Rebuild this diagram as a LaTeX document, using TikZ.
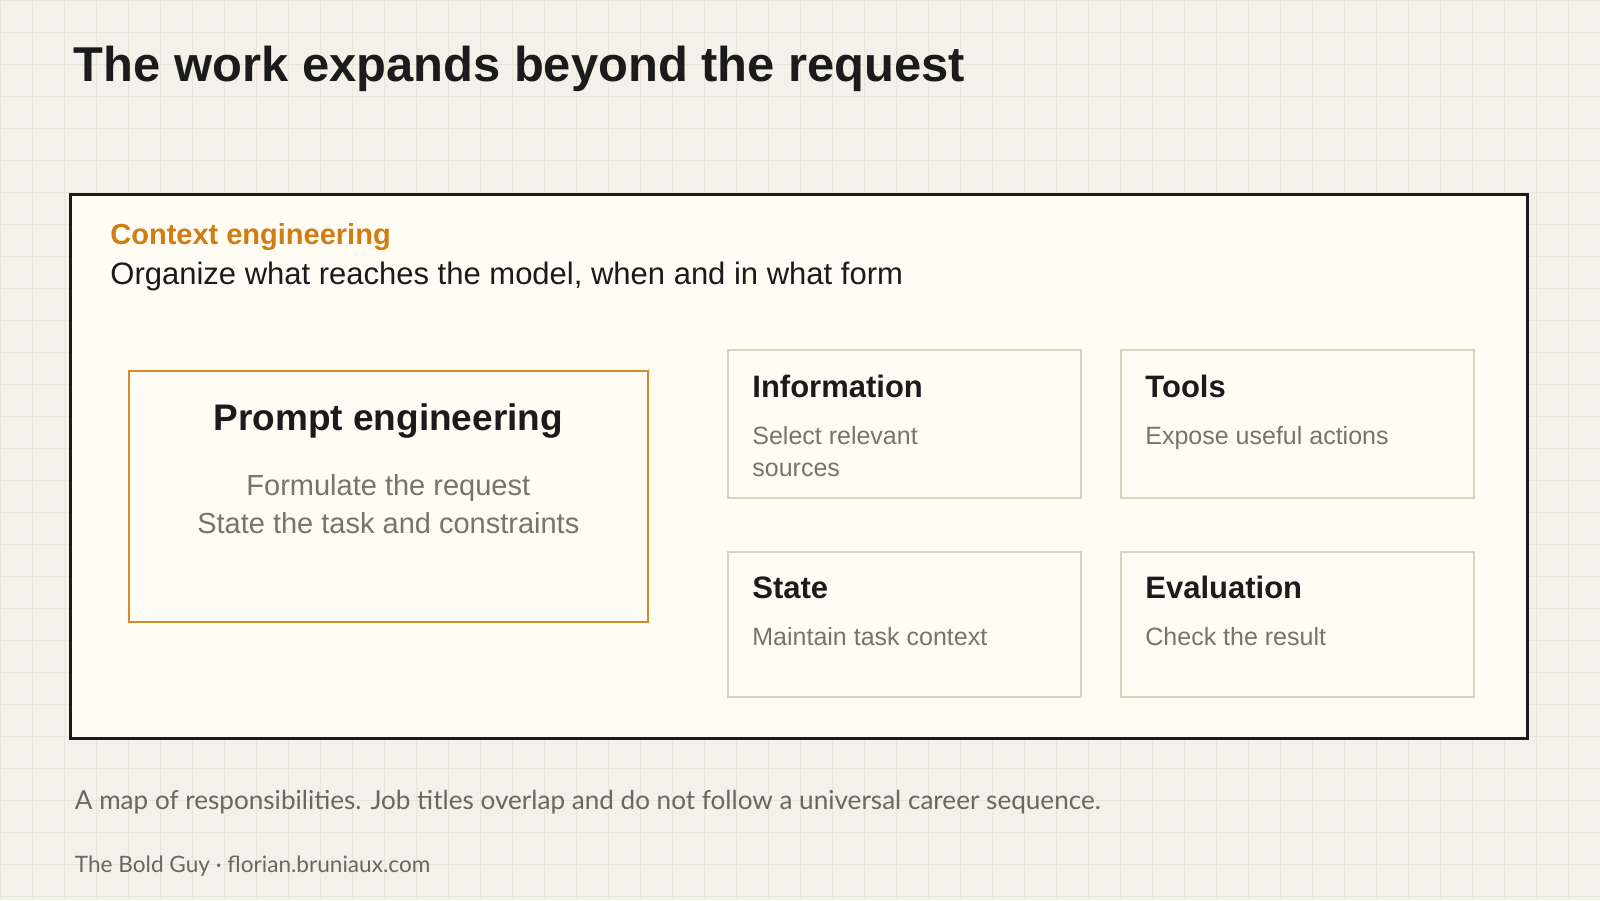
\documentclass[tikz,border=0pt]{standalone}
\usepackage{fontspec}
\setmainfont{Liberation Sans}
\newfontfamily\notefont{Lato}
\usetikzlibrary{calc}
\usetikzlibrary{positioning}

\definecolor{paper}{HTML}{F3F1E9}
\definecolor{gridc}{HTML}{E8E5D9}
\definecolor{panelfill}{HTML}{FFFCF4}
\definecolor{ink}{HTML}{1B1B1B}
\definecolor{ctxorange}{HTML}{D27C14}
\definecolor{boxorange}{HTML}{D8892A}
\definecolor{boxline}{HTML}{D6D3BF}
\definecolor{softgrey}{HTML}{78746D}
\definecolor{notegrey}{HTML}{6B675F}

\tikzset{
	gridline/.style={gridc, line width=0.5pt},
	panel/.style={draw=ink, fill=panelfill, line width=1.25pt, inner sep=0pt, anchor=north west,
		minimum width=728.5pt, minimum height=272pt},
	promptbox/.style={draw=boxorange, line width=1pt, inner sep=0pt, anchor=north west,
		minimum width=259.7pt, minimum height=125.5pt},
	rolebox/.style={draw=boxline, line width=1pt, inner sep=0pt, anchor=north west,
		minimum width=176.5pt, minimum height=#1},
	rolebox/.default=74pt,
	roletitle/.style={inner sep=0pt, anchor=base west, text=ink, font=\fontsize{15.5}{18}\selectfont\bfseries},
	roletext/.style={inner sep=0pt, anchor=base west, align=left, text=softgrey, font=\fontsize{12.5}{16}\selectfont},
	note/.style={inner sep=0pt, anchor=base west, text=notegrey},
}

\begin{document}
\begin{tikzpicture}[x=0.5pt,y=-0.5pt]
	\useasboundingbox[fill=paper] (0,0) rectangle (1600,900);
	\foreach \gx in {0,32,...,1600}
		\draw[gridline] (\gx,0) -- (\gx,900);
	\foreach \gy in {0,32,...,900}
		\draw[gridline] (0,\gy) -- (1600,\gy);

	\node[inner sep=0pt, anchor=base west, text=ink, font=\fontsize{24.45}{28}\selectfont\bfseries] (title) at (73.5,81.6) {The work expands beyond the request};

	% context engineering frame
	\node[panel] (ctx) at (69,193) {};
	\node[inner sep=0pt, anchor=base west, text=ctxorange, font=\fontsize{14.5}{17}\selectfont\bfseries] (ctxname) at ([shift={(41,51)}]ctx.north west) {Context engineering};
	\node[inner sep=0pt, anchor=base west, text=ink, font=\fontsize{15.5}{18}\selectfont] (ctxgoal) at ([shift={(41,91)}]ctx.north west) {Organize what reaches the model, when and in what form};

	% prompt engineering (base anchor sits on the last line)
	\node[promptbox] (prompt) at (127.6,370.4) {};
	\node[inner sep=0pt, anchor=base, text=ink, font=\fontsize{18.5}{21}\selectfont\bfseries] (prompttitle) at ([shift={(0,60)}]prompt.north) {Prompt engineering};
	\node[inner sep=0pt, anchor=base, align=center, text=softgrey, font=\fontsize{14.5}{19}\selectfont] (prompttext) at ([shift={(0,163)}]prompt.north) {Formulate the request\\State the task and constraints};

	% the four other parts
	\node[rolebox] (info) at (726.5,349) {};
	\node[rolebox] (tools) at (1119.5,349) {};
	\node[rolebox=72.5pt] (state) at (726.5,551) {};
	\node[rolebox=72.5pt] (eval) at (1119.5,551) {};

	\node[roletitle] (infot) at ([shift={(25.5,48)}]info.north west) {Information};
	\node[roletext] (infod) at ([shift={(25.5,127)}]info.north west) {Select relevant\\sources};
	\node[roletitle] (toolst) at ([shift={(25.5,48)}]tools.north west) {Tools};
	\node[roletext] (toolsd) at ([shift={(25.5,95)}]tools.north west) {Expose useful actions};
	\node[roletitle] (statet) at ([shift={(25.5,47)}]state.north west) {State};
	\node[roletext] (stated) at ([shift={(25.5,94)}]state.north west) {Maintain task context};
	\node[roletitle] (evalt) at ([shift={(25.5,47)}]eval.north west) {Evaluation};
	\node[roletext] (evald) at ([shift={(25.5,94)}]eval.north west) {Check the result};

	\node[note, font=\notefont\fontsize{13.05}{15}\selectfont] (caption) at (74.5,809) {A map of responsibilities. Job titles overlap and do not follow a universal career sequence.};
	\node[note, font=\notefont\fontsize{11.3}{14}\selectfont] (credit) at (74.5,872.5) {The Bold Guy · florian.bruniaux.com};
\end{tikzpicture}
\end{document}
